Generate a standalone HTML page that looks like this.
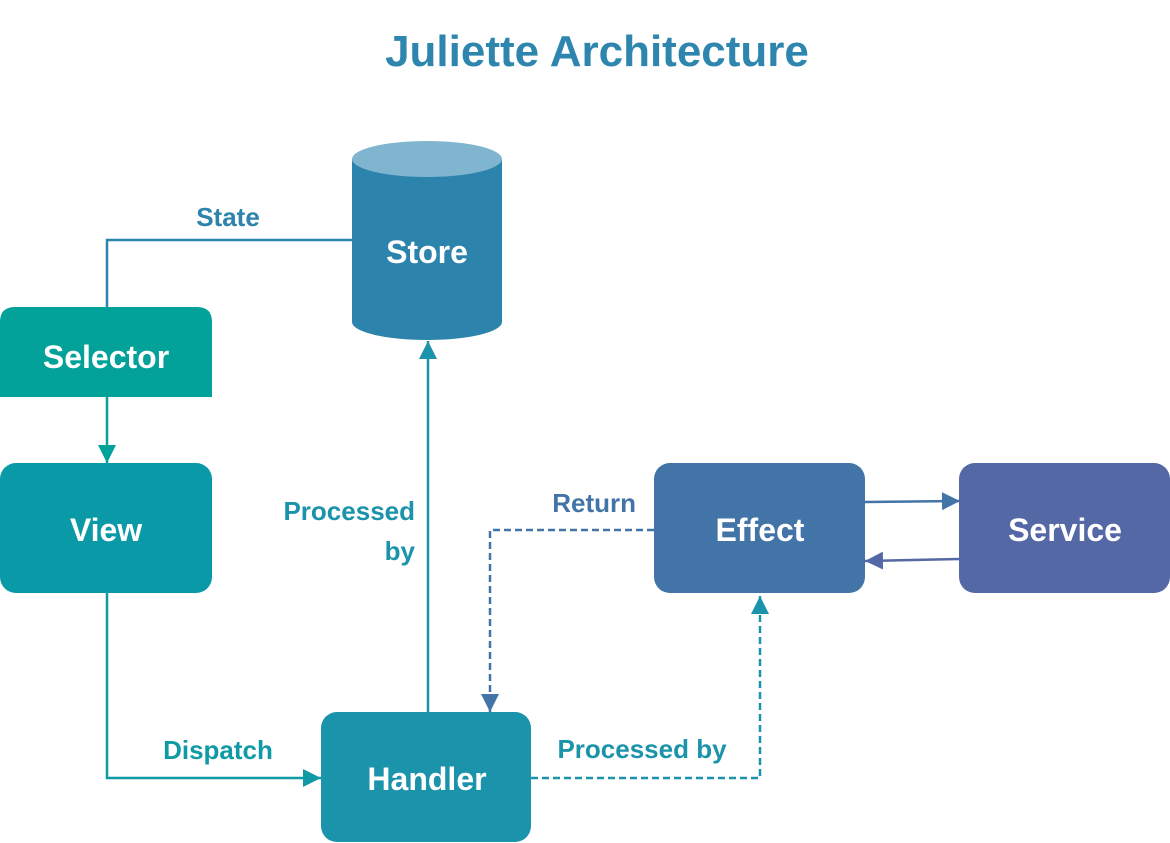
<!DOCTYPE html>
<html><head><meta charset="utf-8"><style>
html,body{margin:0;padding:0;background:#fff;}
svg{display:block;font-family:"Liberation Sans",sans-serif;font-weight:bold;}
</style></head><body>
<svg width="1170" height="843" viewBox="0 0 1170 843" xmlns="http://www.w3.org/2000/svg">
<defs>
<marker id="a1" markerWidth="10" markerHeight="10" refX="9" refY="5" orient="auto" markerUnits="userSpaceOnUse"><path d="M0,0 L10,5 L0,10 z" fill="#02a19a"/></marker>
<marker id="a2" markerWidth="20" markerHeight="20" refX="18" refY="9" orient="auto" markerUnits="userSpaceOnUse"><path d="M0,0 L18,9 L0,18 z" fill="#0f9aa5"/></marker>
<marker id="a3" markerWidth="20" markerHeight="20" refX="18" refY="9" orient="auto" markerUnits="userSpaceOnUse"><path d="M0,0 L18,9 L0,18 z" fill="#1a93ab"/></marker>
<marker id="a4" markerWidth="20" markerHeight="20" refX="18" refY="9" orient="auto" markerUnits="userSpaceOnUse"><path d="M0,0 L18,9 L0,18 z" fill="#4374a8"/></marker>
<marker id="a5" markerWidth="20" markerHeight="20" refX="18" refY="9" orient="auto" markerUnits="userSpaceOnUse"><path d="M0,0 L18,9 L0,18 z" fill="#5368a5"/></marker>
<marker id="a6" markerWidth="22" markerHeight="22" refX="18" refY="9" orient="auto" markerUnits="userSpaceOnUse"><path d="M0,0 L18,9 L0,18 z" fill="#02a19a"/></marker>
</defs>
<text x="597" y="66" text-anchor="middle" font-size="44" fill="#2e86ae">Juliette Architecture</text>

<!-- connectors -->
<polyline points="107,307 107,240 352,240" fill="none" stroke="#2c84ad" stroke-width="2.5"/>
<line x1="107" y1="397" x2="107" y2="463" stroke="#02a19a" stroke-width="2.5" marker-end="url(#a6)"/>
<polyline points="107,593 107,778 321,778" fill="none" stroke="#0f9aa5" stroke-width="2.5" marker-end="url(#a2)"/>
<line x1="428" y1="712" x2="428" y2="341" stroke="#1a93ab" stroke-width="2.5" marker-end="url(#a3)"/>
<polyline points="654,530 490,530 490,712" fill="none" stroke="#4374a8" stroke-width="2.5" stroke-dasharray="7,4" marker-end="url(#a4)"/>
<polyline points="531,778 760,778 760,596" fill="none" stroke="#1a93ab" stroke-width="2.5" stroke-dasharray="7,4" marker-end="url(#a3)"/>
<line x1="865" y1="502" x2="960" y2="501" stroke="#4374a8" stroke-width="2.5" marker-end="url(#a4)"/>
<line x1="959" y1="559" x2="865" y2="561" stroke="#5368a5" stroke-width="2.5" marker-end="url(#a5)"/>

<!-- store -->
<path d="M352,159 L352,322 A75,18 0 0 0 502,322 L502,159 Z" fill="#2c84ad"/>
<ellipse cx="427" cy="159" rx="75" ry="18" fill="#80b5cf"/>
<text x="427" y="263" text-anchor="middle" font-size="32" fill="#fff">Store</text>

<!-- selector -->
<path d="M0,322 Q0,307 15,307 L197,307 Q212,307 212,322 L212,397 L0,397 Z" fill="#02a19a"/>
<text x="106" y="368" text-anchor="middle" font-size="32" fill="#fff">Selector</text>

<rect x="0" y="463" width="212" height="130" rx="16" fill="#0a99a6"/>
<text x="106" y="541" text-anchor="middle" font-size="32" fill="#fff">View</text>

<rect x="321" y="712" width="210" height="130" rx="16" fill="#1a93ab"/>
<text x="427" y="790" text-anchor="middle" font-size="32" fill="#fff">Handler</text>

<rect x="654" y="463" width="211" height="130" rx="16" fill="#4374a8"/>
<text x="760" y="541" text-anchor="middle" font-size="32" fill="#fff">Effect</text>

<rect x="959" y="463" width="211" height="130" rx="16" fill="#5368a5"/>
<text x="1065" y="541" text-anchor="middle" font-size="32" fill="#fff">Service</text>

<!-- labels -->
<text x="228" y="226" text-anchor="middle" font-size="26" fill="#2c84ad">State</text>
<text x="415" y="520" text-anchor="end" font-size="26" fill="#1a93ab">Processed</text>
<text x="415" y="560" text-anchor="end" font-size="26" fill="#1a93ab">by</text>
<text x="636" y="512" text-anchor="end" font-size="26" fill="#4374a8">Return</text>
<text x="218" y="759" text-anchor="middle" font-size="26" fill="#0f9aa5">Dispatch</text>
<text x="642" y="758" text-anchor="middle" font-size="26" fill="#1a93ab">Processed by</text>
</svg>
</body></html>
